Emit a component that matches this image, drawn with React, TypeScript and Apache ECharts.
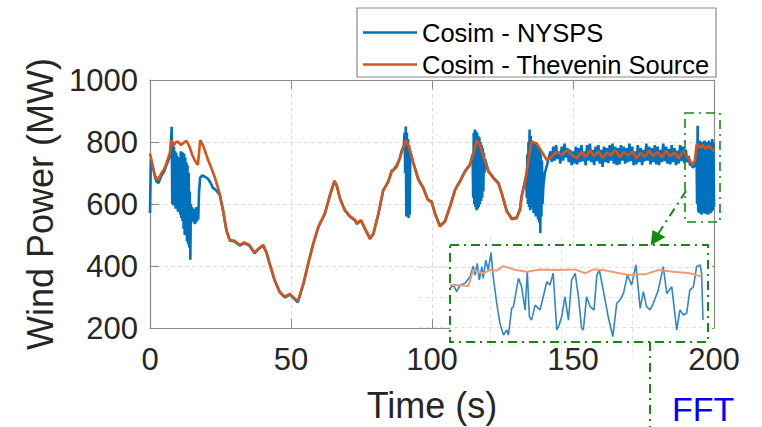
import React, { useEffect, useRef } from "react";
import * as echarts from "echarts";

const seriesNames = ["Cosim - NYSPS", "Cosim - Thevenin Source"];
const xTicks = { min: 0, max: 200, interval: 50 };
const yTicks = { min: 200, max: 1000, interval: 200 };

const thevenin: number[][] = [
  [0,763],[0.8,730],[1.7,693],[2.8,677],[4,699],[5,712],[5.8,731],[7,763],[7.6,806],[8.5,790],[9.2,800],[9.9,801],[11,790],[12,798],[12.9,804],[14,785],[15,758],[15.8,742],[17,726],[17.8,806],[18.8,790],[20.6,742],[21.8,715],[22.9,688],[24.7,634],[25.9,581],[27.1,516],[28.3,484],[30,481],[31,474],[31.8,468],[33.4,476],[35.2,468],[37.1,443],[38.3,455],[40.1,468],[41.3,445],[42.4,409],[44.2,355],[46,317],[47.8,301],[49.6,310],[51,298],[52.4,285],[54.4,344],[56.1,409],[57.9,473],[59.7,527],[62,570],[63.8,629],[65.4,675],[66.2,661],[67.4,618],[69.1,581],[70.9,561],[72.7,549],[73.3,538],[74.8,548],[76.2,522],[78,489],[79.2,505],[81,570],[82.7,645],[84.5,672],[85.7,704],[87.5,720],[89.2,764],[90.7,806],[91.8,785],[93.4,731],[95.2,677],[96.9,651],[98.5,613],[99.9,606],[101,570],[102.8,527],[104.6,543],[106.4,591],[108.2,645],[109.9,672],[111.7,704],[113.5,726],[114.7,763],[115.8,806],[117,790],[118.2,753],[120,704],[121.8,683],[123.5,667],[124.7,634],[126.5,576],[128.3,551],[130,554],[131.2,581],[131.8,624],[133,672],[134.2,742],[135.3,801],[137.1,795],[138.9,769],[140.7,742],[142.4,753],[144.2,769],[146,758],[147.8,774],[149.6,758],[151.4,747],
  [153,768],[154.5,752],[156,772],[157.5,755],[159,770],[160.5,748],[162,766],[163.5,757],[165,775],[166.5,750],[168,768],[169.5,756],[171,770],[172.5,748],[174,765],[175.5,752],[177,772],[178.5,755],[180,768],[181.5,750],[183,771],[184.5,754],[186,766],[187.5,748],[189,770],[190.5,752],[191.5,740],[192.4,726],[193.2,740],[193.9,795],[195,782],[196,790],[197,778],[198,788],[199,780],[200,770]
];

const nysps: number[][] = [
  [0,571],[0.3,745],[1,720],[1.7,690],[2.3,672],[3,668],[4,690],[5,705],[5.8,725],[6.5,740],[7.2,760],[7.7,849],
  [7.9,600],[8.1,795],[8.3,595],[8.5,785],[8.7,610],[8.9,770],[9.1,585],[9.3,765],[9.5,590],[9.7,755],[9.9,575],[10.1,745],[10.3,580],[10.5,750],[10.7,565],[10.9,770],[11.1,555],[11.3,768],[11.5,545],[11.7,765],[11.9,520],[12.1,762],[12.3,500],[12.5,750],[12.7,510],[12.9,735],[13.1,480],[13.3,725],[13.5,470],[13.7,700],[13.9,460],[14.1,640],[14.3,420],[14.5,600],
  [14.7,560],[14.9,590],[15.1,545],[15.3,585],[15.5,540],[15.7,580],[15.9,535],[16.1,585],[16.3,540],[16.5,590],[16.7,545],[16.9,580],[17.1,550],[17.4,640],[17.8,685],[18.5,692],[19.5,688],[20.5,682],[21.5,668],[22.3,652],[23,648],[24,638],[24.7,630],
  [25.9,579],[27.1,514],[28.3,482],[30,479],[31,472],[31.8,466],[33.4,474],[35.2,466],[37.1,441],[38.3,453],[40.1,466],[41.3,443],[42.4,407],[44.2,353],[46,315],[47.8,299],[49.6,308],[51,296],[52.4,283],[54.4,342],[56.1,407],[57.9,471],[59.7,525],[62,568],[63.8,627],[65.4,673],[66.2,659],[67.4,616],[69.1,579],[70.9,559],[72.7,547],[73.3,536],[74.8,546],[76.2,520],[78,487],[79.2,503],[81,568],[82.7,643],[84.5,672],[85.7,708],[86.5,712],[87.5,725],[88.5,745],[89.2,770],[90,790],
  [90.3,830],[90.5,700],[90.7,850],[90.9,560],[91.1,830],[91.3,570],[91.5,810],[91.7,555],[91.9,790],[92.1,565],[92.3,770],[93.4,733],[95.2,679],[96.9,653],[98.5,615],[99.9,608],[101,572],[102.8,529],[104.6,545],[106.4,593],[108.2,647],[109.9,674],[111.7,706],[113.5,728],[114.4,760],
  [114.6,620],[114.8,830],[115,600],[115.2,840],[115.4,590],[115.6,835],[115.8,580],[116,830],[116.2,585],[116.4,820],[116.6,590],[116.8,815],[117,600],[117.2,800],[117.4,610],[117.6,790],[117.8,620],[118,780],[118.2,640],[118.4,765],[118.6,700],[118.8,745],[120,706],[121.8,685],[123.5,669],[124.7,636],[126.5,578],[128.3,553],[130,556],[131.2,583],[131.8,626],[133,674],
  [133.4,690],[133.6,620],[133.8,760],[134,600],[134.2,800],[134.4,590],[134.6,840],[134.8,580],[135,820],[135.2,600],[135.4,805],[135.6,585],[135.8,800],[136,570],[136.2,800],[136.4,590],[136.6,795],[136.8,560],[137,790],[137.2,580],[137.4,785],[137.6,550],[137.8,780],[138,540],[138.2,775],[138.4,506],[138.6,760],[138.8,560],[139,740],[139.2,600],[139.5,660],[140,700],[140.7,722],[141.3,745],
  [142,770],[142.5,735],[143,785],[143.5,740],[144,790],[144.5,745],[145,770],[145.5,730],[146,785],[146.5,740],[147,795],[147.5,750],[148,780],[148.5,735],[149,775],[149.5,725],[150,770],[150.5,730],[151,785],[151.5,728],[152,780],[152.5,735],[153,790],[153.5,738],[154,770],[154.5,725],[155,790],[155.5,740],[156,795],[156.5,735],[157,775],[157.5,725],[158,785],[158.5,738],[159,790],[159.5,730],[160,775],[160.5,720],[161,785],[161.5,735],[162,780],[162.5,732],[163,790],[163.5,740],[164,795],[164.5,730],[165,785],[165.5,725],[166,780],[166.5,728],[167,790],[167.5,740],[168,785],[168.5,730],[169,780],[169.5,735],[170,795],[170.5,738],[171,785],[171.5,725],[172,770],[172.5,728],[173,790],[173.5,735],[174,780],[174.5,725],[175,775],[175.5,738],[176,795],[176.5,740],[177,785],[177.5,728],[178,780],[178.5,735],[179,790],[179.5,728],[180,785],[180.5,725],[181,775],[181.5,735],[182,795],[182.5,738],[183,785],[183.5,730],[184,778],[184.5,728],[185,790],[185.5,735],[186,780],[186.5,725],[187,772],[187.5,730],[188,790],[188.5,738],[189,785],[189.5,732],[190,775],[190.5,735],[191,755],[191.5,725],[192,728],[192.5,718],[193,722],[193.5,735],
  [193.8,780],[194,600],[194.2,852],[194.4,575],[194.6,800],[194.8,570],[195,805],[195.2,580],[195.4,790],[195.6,565],[195.8,800],[196,575],[196.2,795],[196.4,570],[196.6,805],[196.8,580],[197,790],[197.2,568],[197.4,800],[197.6,575],[197.8,795],[198,565],[198.2,805],[198.4,578],[198.6,798],[198.8,570],[199,800],[199.2,575],[199.4,810],[199.6,580],[199.8,800],[200,590]
];

const insetThevenin: number[][] = [
  [192.87,740],[193.06,740],[193.39,737],[193.53,790],[193.67,784],[193.81,779],[194.0,790],[194.19,788],[194.37,803],[194.66,792],[195.03,784],[195.41,792],[195.88,790],[196.39,792],[196.68,779],[196.91,792],[197.19,790],[197.57,781],[197.94,773],[198.41,777],[198.74,790],[199.16,784],[199.63,779],[199.96,768]
];

const insetNysps: number[][] = [
  [192.87,729],[192.97,740],[193.06,718],[193.16,740],[193.3,746],[193.44,768],[193.53,803],[193.58,773],[193.64,812],[193.7,757],[193.77,801],[193.81,762],[193.88,823],[193.95,790],[194.03,848],[194.09,768],[194.19,679],[194.28,612],[194.38,573],[194.47,590],[194.52,573],[194.61,662],[194.66,668],[194.8,762],[194.89,734],[194.99,657],[195.05,784],[195.11,634],[195.17,623],[195.27,673],[195.41,657],[195.5,701],[195.6,751],[195.69,740],[195.78,779],[195.88,590],[195.93,601],[196.02,634],[196.11,701],[196.21,623],[196.3,757],[196.4,779],[196.49,701],[196.58,596],[196.63,590],[196.72,701],[196.82,668],[196.93,657],[197.01,773],[197.08,790],[197.19,723],[197.33,634],[197.46,568],[197.57,679],[197.66,690],[197.76,712],[197.87,773],[197.99,740],[198.11,807],[198.23,662],[198.32,718],[198.41,668],[198.51,657],[198.6,679],[198.74,723],[198.88,801],[198.98,712],[199.12,734],[199.26,590],[199.35,657],[199.45,640],[199.54,646],[199.63,723],[199.73,734],[199.82,801],[199.92,807],[199.96,779],[200.0,623]
];

const FONT = "'Liberation Sans', Arial, Helvetica, sans-serif";
const BLUE = "#0072BD";
const ORANGE = "#D95319";
const GREEN = "#138a13";
const AXIS = "#8a8a8a";
const TXT = "#262626";
const DASH = [9, 5, 2, 5];

export default function App() {
  const ref = useRef<HTMLDivElement>(null);
  useEffect(() => {
    if (!ref.current) return;
    const chart = echarts.init(ref.current, null, { renderer: "svg" });
    const splitMain = { show: true, lineStyle: { color: "#dedede", width: 1, type: [4, 3] } };
    const plain = (v: number) => String(v);
    const option: any = {
      animation: false,
      backgroundColor: "#ffffff",
      textStyle: { fontFamily: FONT },
      grid: [
        { left: 150, top: 80, width: 564, height: 248, show: false, outerBoundsMode: "none" },
        { left: 419, top: 237, width: 284, height: 120, show: false, outerBoundsMode: "none" },
      ],
      legend: {
        data: seriesNames,
        orient: "vertical",
        left: 363,
        top: 19.5,
        padding: 0,
        itemGap: 6,
        itemWidth: 54,
        itemHeight: 2.5,
        icon: "rect",
        textStyle: { fontSize: 25.5, lineHeight: 25, color: "#000", fontFamily: FONT },
      },
      xAxis: [
        {
          type: "value", gridIndex: 0, ...xTicks, position: "bottom",
          name: "Time (s)", nameLocation: "middle", nameGap: 59,
          nameTextStyle: { fontSize: 36, color: TXT, fontFamily: FONT },
          axisLine: { show: true, onZero: false, lineStyle: { color: AXIS, width: 1.2 } },
          axisTick: { show: true, inside: true, length: 9, lineStyle: { color: AXIS } },
          axisLabel: { fontSize: 31, color: TXT, margin: 16, fontFamily: FONT, formatter: plain },
          splitLine: splitMain,
        },
        {
          type: "value", gridIndex: 0, ...xTicks, position: "top",
          axisLine: { show: true, onZero: false, lineStyle: { color: AXIS, width: 1.2 } },
          axisTick: { show: true, inside: true, length: 9, lineStyle: { color: AXIS } },
          axisLabel: { show: false },
          splitLine: { show: false },
        },
        {
          type: "value", gridIndex: 1, min: 192, max: 200, interval: 2, z: 4,
          axisLine: { show: false }, axisTick: { show: false }, axisLabel: { show: false },
          splitLine: { show: true, showMinLine: false, showMaxLine: false, lineStyle: { color: "#e2e2e2", width: 1, type: [4, 3] } },
        },
      ],
      yAxis: [
        {
          type: "value", gridIndex: 0, ...yTicks, position: "left",
          name: "Wind Power (MW)", nameLocation: "middle", nameGap: 86, nameRotate: 90,
          nameTextStyle: { fontSize: 36, color: TXT, fontFamily: FONT },
          axisLine: { show: true, onZero: false, lineStyle: { color: AXIS, width: 1.2 } },
          axisTick: { show: true, inside: true, length: 9, lineStyle: { color: AXIS } },
          axisLabel: { fontSize: 31, color: TXT, margin: 12, fontFamily: FONT, formatter: plain },
          splitLine: splitMain,
        },
        {
          type: "value", gridIndex: 0, ...yTicks, position: "right",
          axisLine: { show: true, onZero: false, lineStyle: { color: AXIS, width: 1.2 } },
          axisTick: { show: true, inside: true, length: 9, lineStyle: { color: AXIS } },
          axisLabel: { show: false },
          splitLine: { show: false },
        },
        {
          type: "value", gridIndex: 1, min: 500, max: 900, interval: 100, z: 4,
          axisLine: { show: false }, axisTick: { show: false }, axisLabel: { show: false },
          splitLine: { show: true, showMinLine: false, showMaxLine: false, lineStyle: { color: "#e2e2e2", width: 1, type: [4, 3] } },
        },
      ],
      series: [
        {
          name: seriesNames[0], type: "line", xAxisIndex: 0, yAxisIndex: 0, data: nysps,
          showSymbol: false, symbol: "none", lineStyle: { color: BLUE, width: 2.6 }, itemStyle: { color: BLUE }, z: 2,
        },
        {
          name: seriesNames[1], type: "line", xAxisIndex: 0, yAxisIndex: 0, data: thevenin,
          showSymbol: false, symbol: "none", lineStyle: { color: ORANGE, width: 2.6 }, itemStyle: { color: ORANGE }, z: 2,
        },
        {
          name: "inset NYSPS", type: "line", xAxisIndex: 2, yAxisIndex: 2, data: insetNysps,
          showSymbol: false, symbol: "none", lineStyle: { color: "#2f87c8", width: 1.6 }, z: 5,
        },
        {
          name: "inset Thevenin", type: "line", xAxisIndex: 2, yAxisIndex: 2, data: insetThevenin,
          showSymbol: false, symbol: "none", lineStyle: { color: "#ee9c78", width: 2 }, z: 5,
        },
      ],
      graphic: [
        { type: "rect", z: 3, shape: { x: 450, y: 245, width: 262, height: 97 }, style: { fill: "#ffffff" } },
        { type: "rect", z: 10, shape: { x: 357, y: 8, width: 359, height: 69 }, style: { fill: "none", stroke: "#8a8a8a", lineWidth: 1.2 } },
        { type: "rect", z: 10, shape: { x: 450, y: 245, width: 258, height: 97 }, style: { fill: "none", stroke: GREEN, lineWidth: 2, lineDash: DASH } },
        { type: "rect", z: 10, shape: { x: 685, y: 113, width: 35, height: 109 }, style: { fill: "none", stroke: GREEN, lineWidth: 1.6, lineDash: DASH } },
        { type: "line", z: 10, shape: { x1: 686, y1: 191, x2: 658, y2: 234 }, style: { stroke: GREEN, lineWidth: 2, lineDash: DASH } },
        { type: "polygon", z: 10, shape: { points: [[650.7, 245.5], [652.5, 230], [665.5, 237]] }, style: { fill: GREEN } },
        { type: "line", z: 10, shape: { x1: 650, y1: 342, x2: 650, y2: 427 }, style: { stroke: GREEN, lineWidth: 2, lineDash: DASH } },
        { type: "text", z: 10, x: 672, y: 392, style: { text: "FFT", fill: "#0000ff", font: `34px ${FONT}`, textVerticalAlign: "top" } },
      ],
    };
    chart.setOption(option);
    return () => chart.dispose();
  }, []);
  return <div ref={ref} style={{ position: "fixed", left: 0, top: 0, width: 762, height: 427 }} />;
}
